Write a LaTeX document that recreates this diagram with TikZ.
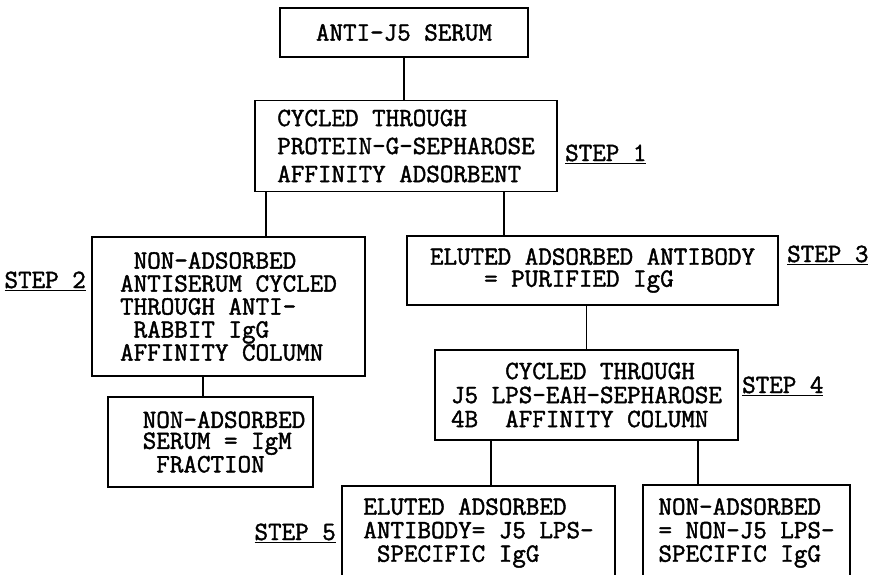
\documentclass[tikz,border=0pt]{standalone}
\usepackage{fontspec}
\newfontfamily\courier{Latin Modern Mono}[FakeBold=1.6]
\usetikzlibrary{positioning,calc}

\newcommand{\ind}{\hphantom{X}}

\begin{document}
\begin{tikzpicture}[
    x=1pt, y=-1pt,
    stage/.style={rectangle, draw, line width=1.8pt, align=left, inner sep=0pt,
                  font=\courier\fontsize{26.3}{#1}\selectfont},
    stage/.default=23,
    steplabel/.style={inner sep=0pt, font=\courier\fontsize{26.3}{23}\selectfont},
    link/.style={line width=1.8pt},
]
\useasboundingbox (0,0) rectangle (870,574);

% Boxes
\node[stage, align=center, minimum width=248, minimum height=49] (serum) at (404,32.5) {ANTI-J5 SERUM};
\node[stage=28, minimum width=302, minimum height=91] (protg) at (406,146)
     {CYCLED THROUGH\\PROTEIN-G-SEPHAROSE\\AFFINITY ADSORBENT};
\node[stage=23, minimum width=273, minimum height=139] (nonads) at (228.5,306.5)
     {\ind NON-ADSORBED\\ANTISERUM CYCLED\\THROUGH ANTI-\\\ind RABBIT IgG\\AFFINITY COLUMN};
\node[stage=22, minimum width=371, minimum height=69] (igg) at (592.5,270.5)
     {ELUTED ADSORBED ANTIBODY\\\ind\ind\ind\ind= PURIFIED IgG};
\node[stage=24, minimum width=303, minimum height=90] (lps) at (586.5,395)
     {\ind\ind\ind\ind CYCLED THROUGH\\J5 LPS-EAH-SEPHAROSE\\4B\ind{} AFFINITY COLUMN};
\node[stage=21, minimum width=205, minimum height=90] (igm) at (210.5,442)
     {\ind\ind NON-ADSORBED\\\ind\ind SERUM = IgM\\\ind\ind\ind FRACTION};
\node[stage=23.5, minimum width=273, minimum height=94] (specific) at (478.5,533)
     {ELUTED ADSORBED\\ANTIBODY= J5 LPS-\\\ind SPECIFIC IgG};
\node[stage=23.5, minimum width=207, minimum height=96] (nonspec) at (746.5,533)
     {NON-ADSORBED\\= NON-J5 LPS-\\SPECIFIC IgG};

% Step labels
\node[steplabel, anchor=base west] (step1) at (565,161) {\underline{STEP 1}};
\node[steplabel, anchor=base east] (step2) at (86,288) {\underline{STEP 2}};
\node[steplabel, anchor=base west] (step3) at (787,262) {\underline{STEP 3}};
\node[steplabel, anchor=base west] (step4) at (742,393) {\underline{STEP 4}};
\node[steplabel, anchor=base east] (step5) at (336,540) {\underline{STEP 5}};

% Connectors
\draw[link] (serum.south) -- (serum.south |- protg.north);
\draw[link] ([xshift=12pt]protg.south west) -- ([xshift=12pt]protg.south west |- nonads.north);
\draw[link] ([xshift=-54pt]protg.south east) -- ([xshift=-54pt]protg.south east |- igg.north);
\draw[link] ([xshift=112pt]nonads.south west) -- ([xshift=112pt]nonads.south west |- igm.north);
\draw[link] (lps.north) -- (lps.north |- igg.south);
\draw[link] ([xshift=57pt]lps.south west) -- ([xshift=57pt]lps.south west |- specific.north);
\draw[link] ([xshift=-41pt]lps.south east) -- ([xshift=-41pt]lps.south east |- nonspec.north);

\end{tikzpicture}
\end{document}
